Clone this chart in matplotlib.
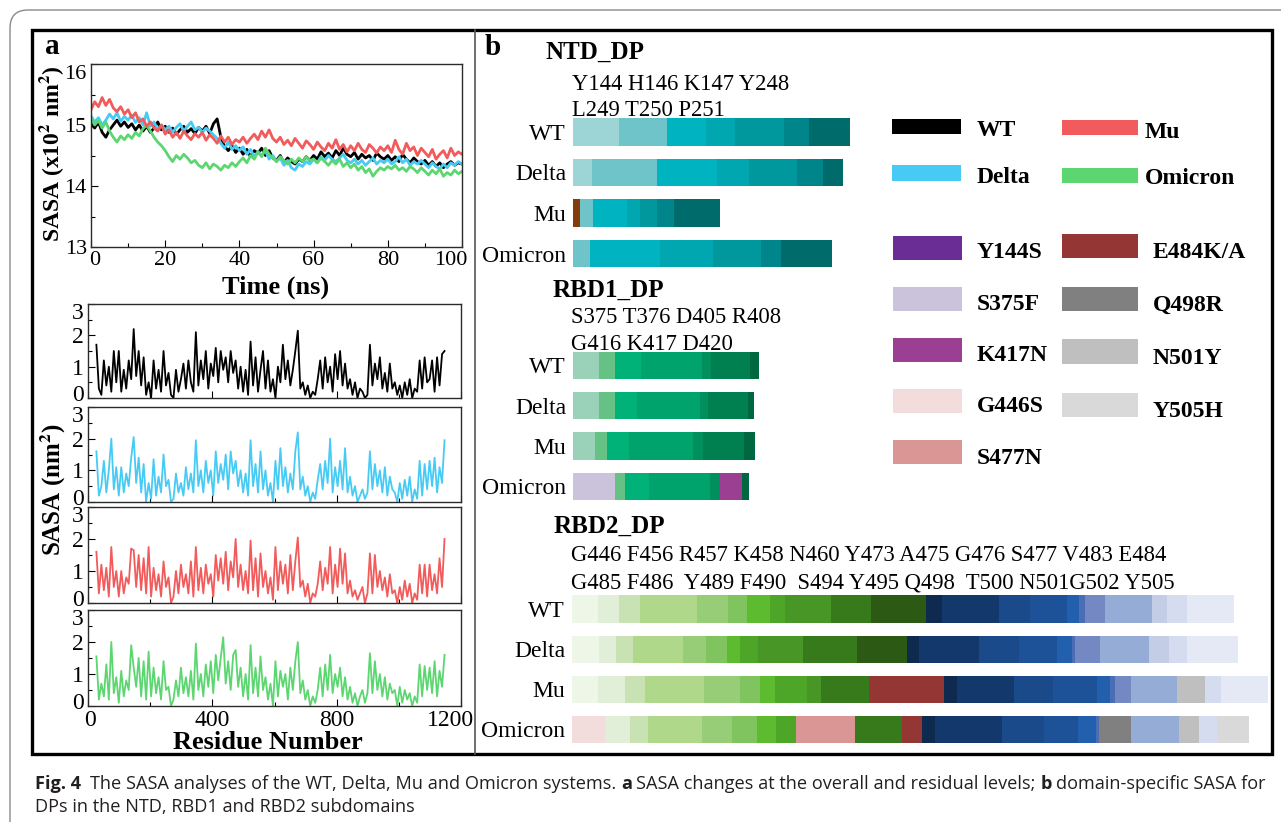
import numpy as np
import matplotlib
matplotlib.use('Agg')
import matplotlib.pyplot as plt
from matplotlib.patches import Rectangle, FancyBboxPatch
from matplotlib.ticker import MultipleLocator
from matplotlib.transforms import ScaledTranslation
from matplotlib import font_manager

plt.rcParams['font.family'] = 'Liberation Serif'
plt.rcParams['mathtext.fontset'] = 'stix'

# ---------------- data: panel a (overall SASA vs time, x10^2 nm^2) ----------------
time_ns = np.arange(0, 101)

sasa_wt = [15.02, 14.95, 15.05, 14.88, 14.80, 14.92, 15.00, 15.08, 14.98, 15.05,
           14.96, 15.02, 14.92, 15.00, 14.90, 14.98, 14.88, 14.95, 15.05, 14.92,
           14.98, 14.88, 14.95, 14.85, 14.92, 14.98, 14.88, 14.94, 14.86, 14.96,
           14.90, 14.98, 14.86, 15.02, 15.10, 14.80, 14.65, 14.58, 14.66, 14.55,
           14.62, 14.52, 14.60, 14.48, 14.58, 14.54, 14.62, 14.50, 14.58, 14.46,
           14.42, 14.50, 14.38, 14.46, 14.40, 14.36, 14.44, 14.40, 14.48, 14.42,
           14.50, 14.44, 14.56, 14.48, 14.54, 14.46, 14.58, 14.50, 14.62, 14.52,
           14.48, 14.55, 14.44, 14.52, 14.46, 14.50, 14.42, 14.54, 14.48, 14.44,
           14.50, 14.42, 14.48, 14.40, 14.52, 14.44, 14.38, 14.46, 14.40, 14.36,
           14.42, 14.34, 14.40, 14.32, 14.38, 14.30, 14.36, 14.40, 14.34, 14.38,
           14.36]
sasa_delta = [15.15, 15.05, 15.12, 15.00, 15.08, 15.18, 15.10, 15.20, 15.06, 15.14,
              15.08, 15.16, 15.04, 15.12, 15.00, 15.20, 14.98, 15.05, 14.92, 15.00,
              14.92, 14.98, 14.88, 14.96, 15.02, 14.90, 14.98, 15.05, 14.92, 14.96,
              14.88, 14.95, 14.90, 14.84, 14.78, 14.70, 14.62, 14.72, 14.60, 14.66,
              14.58, 14.64, 14.52, 14.60, 14.48, 14.56, 14.50, 14.58, 14.44, 14.50,
              14.40, 14.46, 14.34, 14.42, 14.30, 14.26, 14.36, 14.32, 14.40, 14.36,
              14.44, 14.38, 14.48, 14.42, 14.50, 14.44, 14.40, 14.46, 14.52, 14.42,
              14.38, 14.44, 14.36, 14.42, 14.34, 14.40, 14.46, 14.36, 14.42, 14.38,
              14.44, 14.36, 14.40, 14.48, 14.38, 14.44, 14.34, 14.40, 14.36, 14.42,
              14.36, 14.30, 14.38, 14.32, 14.28, 14.36, 14.30, 14.38, 14.34, 14.40,
              14.36]
sasa_mu = [15.25, 15.38, 15.30, 15.45, 15.32, 15.42, 15.28, 15.22, 15.30, 15.18,
           15.25, 15.12, 15.20, 15.05, 15.10, 14.98, 15.05, 14.95, 14.90, 15.00,
           14.85, 14.92, 14.80, 14.88, 14.78, 14.90, 14.82, 14.76, 14.86, 14.80,
           14.88, 14.75, 14.84, 14.78, 14.70, 14.82, 14.72, 14.80, 14.68, 14.76,
           14.72, 14.80, 14.70, 14.78, 14.85, 14.76, 14.90, 14.80, 14.92, 14.78,
           14.72, 14.80, 14.68, 14.75, 14.66, 14.78, 14.70, 14.62, 14.74, 14.68,
           14.60, 14.72, 14.64, 14.58, 14.70, 14.62, 14.76, 14.60, 14.68, 14.56,
           14.66, 14.58, 14.70, 14.60, 14.55, 14.68, 14.62, 14.54, 14.64, 14.58,
           14.66, 14.55, 14.75, 14.60, 14.52, 14.70, 14.58, 14.64, 14.50, 14.62,
           14.55, 14.48, 14.60, 14.44, 14.52, 14.58, 14.46, 14.62, 14.50, 14.56,
           14.52]
sasa_omicron = [15.12, 15.00, 15.08, 14.95, 15.05, 14.90, 14.80, 14.72, 14.82, 14.76,
                14.84, 14.78, 14.88, 14.82, 14.94, 15.00, 14.90, 14.80, 14.72, 14.66,
                14.58, 14.48, 14.40, 14.50, 14.44, 14.52, 14.46, 14.38, 14.42, 14.34,
                14.30, 14.38, 14.28, 14.36, 14.32, 14.26, 14.34, 14.30, 14.38, 14.32,
                14.40, 14.46, 14.38, 14.50, 14.44, 14.56, 14.48, 14.62, 14.52, 14.46,
                14.40, 14.48, 14.42, 14.36, 14.44, 14.38, 14.46, 14.40, 14.48, 14.42,
                14.44, 14.38, 14.46, 14.40, 14.34, 14.42, 14.36, 14.44, 14.32, 14.38,
                14.30, 14.36, 14.26, 14.32, 14.22, 14.28, 14.16, 14.24, 14.30, 14.26,
                14.32, 14.28, 14.34, 14.26, 14.30, 14.24, 14.32, 14.28, 14.22, 14.30,
                14.24, 14.18, 14.26, 14.20, 14.28, 14.16, 14.22, 14.18, 14.26, 14.20,
                14.24]
mean_labels = ['14.71±0.21', '14.62±0.23', '14.59±0.26', '14.45±0.26']

# ---------------- data: panel a (per-residue SASA, nm^2) ----------------
residue = np.arange(27, 1148, 8)

res_wt = [1.7, 0.3, 0.1, 1.2, 0.4, 1.0, 0.2, 1.5, 0.5, 1.5,
          0.2, 0.9, 0.3, 1.2, 0.6, 2.2, 0.7, 1.5, 0.4, 1.3,
          0.1, 0.5, 0.0, 1.2, 0.3, 0.9, 0.2, 1.5, 0.4, 0.8,
          0.1, 0.0, 0.9, 0.2, 0.6, 1.1, 0.3, 1.2, 0.5, 0.2,
          2.1, 0.4, 1.2, 0.6, 1.5, 0.3, 1.1, 0.7, 1.6, 0.5,
          1.5, 0.9, 1.3, 0.5, 1.5, 0.8, 1.2, 0.3, 1.0, 0.2,
          0.9, 0.1, 1.8, 0.4, 1.3, 0.2, 0.9, 1.5, 0.3, 1.2,
          0.2, 0.6, 0.0, 1.0, 0.5, 1.7, 0.6, 1.2, 0.4, 0.9,
          1.5, 2.15, 0.3, 0.5, 0.1, 0.4, 0.0, 0.2, 0.1, 0.6,
          1.2, 0.3, 1.3, 0.5, 1.0, 0.2, 1.4, 0.6, 1.5, 0.4,
          1.1, 0.3, 0.6, 0.1, 0.5, 0.0, 0.3, 0.2, 0.0, 0.1,
          1.7, 0.4, 1.1, 0.6, 1.3, 0.3, 0.8, 0.2, 1.1, 0.3,
          0.5, 0.1, 0.4, 0.0, 0.5, 0.1, 0.6, 0.0, 0.3, 0.2,
          1.2, 0.3, 1.3, 0.5, 0.6, 1.2, 0.2, 1.3, 0.4, 1.4,
          1.5]
res_delta = [1.6, 0.2, 0.5, 1.3, 0.3, 1.0, 2.0, 0.4, 1.1, 0.2,
             1.1, 0.3, 0.9, 0.5, 1.4, 2.05, 0.6, 1.4, 0.3, 1.2,
             0.0, 0.6, 0.1, 1.35, 0.2, 0.8, 0.3, 1.5, 0.5, 0.7,
             0.0, 0.1, 0.9, 0.3, 0.6, 0.2, 1.1, 0.4, 0.9, 0.3,
             1.95, 0.5, 1.0, 0.3, 1.3, 0.6, 1.0, 0.2, 1.6, 0.6,
             1.2, 0.7, 1.5, 0.4, 1.6, 0.9, 1.3, 0.5, 1.0, 0.3,
             0.9, 0.2, 1.95, 0.5, 1.2, 0.3, 1.6, 0.4, 1.0, 0.2,
             0.6, 0.0, 1.3, 0.4, 1.7, 0.5, 1.1, 0.3, 0.9, 0.4,
             1.6, 2.2, 0.4, 0.8, 0.2, 0.5, 0.0, 0.3, 0.1, 0.7,
             1.2, 0.4, 1.3, 0.6, 2.0, 0.3, 1.1, 0.5, 1.3, 0.4,
             1.7, 0.3, 0.8, 0.2, 0.5, 0.0, 0.2, 0.4, 0.1, 0.3,
             1.6, 0.4, 1.2, 0.5, 1.0, 0.3, 1.1, 0.2, 0.8, 0.4,
             0.3, 0.0, 0.6, 0.1, 0.7, 0.2, 0.8, 0.0, 0.4, 0.1,
             1.3, 0.2, 1.2, 0.4, 1.3, 0.5, 1.4, 0.3, 1.1, 0.6,
             1.95]
res_mu = [1.6, 0.3, 1.2, 0.4, 1.1, 0.2, 1.75, 0.5, 1.0, 0.2,
          1.0, 0.3, 0.8, 0.6, 1.7, 1.65, 0.5, 1.5, 0.4, 1.4,
          0.3, 1.75, 0.2, 1.1, 0.4, 0.9, 0.2, 1.3, 0.5, 0.8,
          0.0, 0.2, 1.0, 0.3, 1.2, 0.5, 0.9, 0.3, 1.3, 0.2,
          1.75, 0.4, 1.1, 0.3, 1.2, 0.6, 0.9, 0.2, 1.5, 0.7,
          1.4, 0.6, 1.6, 0.4, 1.3, 0.8, 2.0, 0.5, 1.2, 0.4,
          1.0, 0.3, 1.95, 0.4, 1.4, 0.2, 1.55, 0.5, 1.0, 0.3,
          0.8, 0.1, 1.75, 0.4, 1.3, 0.6, 1.2, 0.3, 1.5, 0.4,
          1.3, 2.05, 0.5, 0.7, 0.2, 0.6, 0.0, 0.3, 0.2, 0.6,
          1.3, 0.4, 1.1, 0.6, 1.75, 0.3, 1.2, 0.5, 1.7, 0.6,
          1.55, 0.3, 0.7, 0.2, 0.4, 0.1, 0.3, 0.5, 0.0, 0.3,
          1.55, 0.3, 1.5, 0.5, 1.0, 0.4, 0.8, 0.2, 0.9, 0.3,
          0.4, 0.0, 0.5, 0.1, 0.7, 0.2, 0.6, 0.0, 0.3, 0.1,
          1.2, 0.3, 1.2, 0.2, 1.2, 0.4, 0.9, 0.3, 1.4, 0.5,
          2.0]
res_omicron = [1.55, 0.2, 0.7, 0.3, 1.3, 0.2, 2.0, 0.4, 0.9, 0.1,
               1.1, 0.3, 0.8, 0.5, 1.9, 1.2, 0.6, 1.5, 0.3, 1.4,
               0.2, 1.7, 0.3, 1.2, 0.4, 0.9, 0.2, 1.4, 0.5, 0.6,
               0.0, 0.2, 0.8, 0.3, 1.2, 0.4, 0.9, 0.3, 1.1, 0.2,
               1.95, 0.5, 1.0, 0.3, 1.3, 0.6, 1.4, 0.4, 1.6, 0.8,
               1.5, 2.15, 0.7, 1.4, 0.5, 1.6, 1.75, 0.6, 1.2, 0.3,
               1.0, 0.2, 1.9, 0.4, 1.2, 0.3, 1.55, 0.5, 0.9, 0.2,
               0.7, 0.0, 1.4, 0.3, 1.1, 0.6, 1.0, 0.2, 1.2, 0.5,
               1.4, 2.0, 0.4, 0.8, 0.2, 0.5, 0.0, 0.3, 0.1, 0.5,
               1.2, 0.3, 1.3, 0.5, 1.6, 0.4, 1.0, 0.6, 1.2, 0.3,
               0.9, 0.2, 0.6, 0.1, 0.4, 0.0, 0.3, 0.5, 0.1, 0.4,
               1.65, 0.4, 1.4, 0.5, 1.0, 0.3, 0.9, 0.2, 0.7, 0.4,
               0.5, 0.0, 0.6, 0.1, 0.5, 0.2, 0.4, 0.0, 0.3, 0.1,
               1.3, 0.3, 1.25, 0.5, 1.2, 0.4, 1.4, 0.3, 1.1, 0.6,
               1.6]

# ---------------- data: panel b (per-residue SASA contributions of DPs) ----------------
variants = ['WT', 'Delta', 'Mu', 'Omicron']

ntd_residues = ['Y144 H146 K147 Y248', 'L249 T250 P251']
ntd_wt = [45.7, 48.3, 39.4, 28.3, 49.3, 25.0, 41.4]
ntd_delta = [18.7, 65.3, 60.0, 31.7, 48.0, 26.3, 20.0]
ntd_mu = [7.0, 12.7, 34.7, 13.0, 17.0, 16.3, 46.3]
ntd_omicron = [16.7, 70.0, 53.3, 47.7, 20.7, 50.7]

rbd1_residues = ['S375 T376 D405 R408', 'G416 K417 D420']
rbd1_wt = [26.0, 16.3, 25.3, 61.3, 9.3, 38.7, 9.0]
rbd1_delta = [26.0, 16.3, 21.7, 63.0, 8.3, 39.3, 6.3]
rbd1_mu = [22.3, 11.3, 22.0, 64.7, 9.3, 41.3, 10.7]
rbd1_omicron = [41.7, 10.7, 23.3, 61.7, 10.0, 21.7, 7.0]

rbd2_residues = ['G446 F456 R457 K458 N460 Y473 A475 G476 S477 V483 E484',
                 'G485 F486  Y489 F490  S494 Y495 Q498  T500 N501G502 Y505']
rbd2_wt = [16.7, 14.0, 13.7, 37.3, 20.3, 12.7, 14.7, 10.0, 29.7, 26.0, 36.3,
           10.7, 36.7, 20.7, 24.0, 8.0, 3.7, 13.3, 30.3, 10.3, 12.7, 31.0]
rbd2_delta = [17.7, 11.3, 11.0, 32.3, 15.0, 14.3, 8.3, 11.7, 29.7, 35.0, 32.7,
              7.7, 39.3, 26.0, 25.3, 9.3, 2.0, 16.3, 32.3, 12.7, 12.3, 33.3]
rbd2_mu = [17.3, 17.3, 13.3, 38.7, 23.0, 13.3, 9.7, 21.3, 8.7, 31.3, 49.0,
           8.7, 37.0, 25.7, 29.0, 8.3, 3.3, 10.7, 30.0, 18.3, 10.0, 31.3]
rbd2_omicron = [21.3, 16.3, 12.0, 35.3, 19.7, 16.3, 12.3, 13.3, 38.3, 31.0, 12.7,
                9.0, 43.3, 28.0, 21.7, 11.7, 2.0, 21.3, 31.3, 12.7, 12.0, 21.0]

# ---------------- colours ----------------
c_wt, c_delta, c_mu, c_omi = '#000000', '#47cbf5', '#f25b5b', '#5cd670'
mut = {'Y144S': '#6a2d96', 'S375F': '#cbc2dc', 'K417N': '#9b3f92', 'G446S': '#f2dcdc',
       'S477N': '#d99694', 'E484K/A': '#943634', 'Q498R': '#808080', 'N501Y': '#bfbfbf',
       'Y505H': '#d9d9d9'}
teal = ['#9dd4d6', '#6fc4ca', '#00b3c1', '#00a6b0', '#00979d', '#00868a', '#006b6b']
mint = ['#99d2b9', '#66c185', '#00b277', '#00a36b', '#008f5d', '#007f50', '#006841']
rb2 = ['#eef6e7', '#e2efd8', '#c9e2b4', '#afd88b', '#98cd78', '#80c45f', '#5cbb2e',
       '#4da628', '#489625', '#377a1c', '#2c5a15', '#0f2a4f', '#13386c', '#1a4a8a',
       '#1d5298', '#2260ad', '#4a6db5', '#7489c3', '#95acd7', '#c3cde6', '#d5dcef', '#e4e9f5']

ntd_cols = [teal, teal, ['#843c0c'] + teal[1:], teal[1:]]
rbd1_cols = [mint, mint, mint,
             [mut['S375F']] + mint[1:5] + [mut['K417N'], mint[6]]]
rb2_mu = list(rb2); rb2_mu[10] = mut['E484K/A']; rb2_mu[19] = mut['N501Y']
rb2_omi = list(rb2)
rb2_omi[0] = mut['G446S']; rb2_omi[8] = mut['S477N']; rb2_omi[10] = mut['E484K/A']
rb2_omi[17] = mut['Q498R']; rb2_omi[19] = mut['N501Y']; rb2_omi[21] = mut['Y505H']
rbd2_cols = [rb2, rb2, rb2_mu, rb2_omi]

# ---------------- figure ----------------
W, H = 1281, 822
fig = plt.figure(figsize=(W / 100, H / 100), dpi=100)


def add_ax(l, t, r, b):
    return fig.add_axes([l / W, 1 - b / H, (r - l) / W, (b - t) / H])


def nudge(label, dx, dy):
    # shift a tick label by dx, dy pixels (dy > 0 means down)
    label.set_transform(label.get_transform() +
                        ScaledTranslation(dx / 100, -dy / 100, fig.dpi_scale_trans))


over = fig.add_axes([0, 0, 1, 1])
over.set_xlim(0, W)
over.set_ylim(H, 0)
over.axis('off')

# page border, figure frame and divider
over.add_patch(FancyBboxPatch((10, 10), 1320, 830, boxstyle='round,pad=0,rounding_size=18',
                              fill=False, ec='#8a8a8a', lw=1.0))
over.add_patch(Rectangle((32, 30), 1240, 724, fill=False, ec='black', lw=2.4))
over.plot([475, 475], [30, 754], color='#555555', lw=1.2)

over.text(45, 54, 'a', fontsize=21, fontweight='bold', va='baseline')
over.text(485, 55, 'b', fontsize=21, fontweight='bold', va='baseline')


def style_axes(ax):
    for s in ax.spines.values():
        s.set_color('#2b2b2b')
        s.set_linewidth(1.0)
    ax.tick_params(which='both', direction='in', top=False, right=False, width=0.8)
    ax.tick_params(which='major', length=5)
    ax.tick_params(which='minor', length=3)


# top: overall SASA
ax0 = add_ax(91, 64, 462, 247)
for vals, c in [(sasa_wt, c_wt), (sasa_delta, c_delta), (sasa_omicron, c_omi), (sasa_mu, c_mu)]:
    ax0.plot(time_ns, vals, color=c, lw=2.0)
ax0.set_xlim(0, 100)
ax0.set_ylim(13, 16)
ax0.set_xticks([0, 20, 40, 60, 80, 100])
ax0.set_yticks([13, 14, 15, 16])
ax0.xaxis.set_minor_locator(MultipleLocator(10))
ax0.yaxis.set_minor_locator(MultipleLocator(0.5))
style_axes(ax0)
ax0.tick_params(labelsize=16, pad=3)
xl = ax0.get_xticklabels()
yl = ax0.get_yticklabels()
nudge(xl[0], 4, 0)
nudge(xl[-1], -11, 0)
nudge(yl[-1], 0, 8)

for txt, c, yb in zip(mean_labels, [c_mu, c_wt, c_delta, c_omi], [190, 208, 225, 242]):
    over.text(110, yb, txt, color=c, fontsize=16.5, fontweight='bold', va='baseline')

over.text(52, 154, r'SASA (x10$^{\mathbf{2}}$ nm$^{\mathbf{2}}$)', rotation=90, fontsize=17,
          fontweight='bold', ha='center', va='center')
over.text(276, 287, 'Time (ns)', fontsize=19, fontweight='bold', ha='center', va='center')

# per-residue panels
res_series = [(res_wt, c_wt), (res_delta, c_delta), (res_mu, c_mu), (res_omicron, c_omi)]
panel_rows = [(304, 398), (407, 502), (507, 603), (610, 706)]
for i, ((vals, c), (t, b)) in enumerate(zip(res_series, panel_rows)):
    ax = add_ax(88, t, 461, b)
    ax.plot(residue, vals, color=c, lw=1.3)
    ax.set_xlim(0, 1200)
    ax.set_ylim(0, 3)
    ax.set_xticks([0, 400, 800, 1200])
    ax.set_yticks([0, 1, 2, 3])
    ax.xaxis.set_minor_locator(MultipleLocator(200))
    ax.yaxis.set_minor_locator(MultipleLocator(0.5))
    style_axes(ax)
    ax.tick_params(labelsize=17, pad=3)
    yl = ax.get_yticklabels()
    nudge(yl[0], 0, -5)
    nudge(yl[-1], 0, 7)
    if i < 3:
        ax.tick_params(labelbottom=False)
    else:
        xl = ax.get_xticklabels()
        nudge(xl[0], 2, 0)
        nudge(xl[-1], -11, 0)

over.text(53, 490, r'SASA (nm$^{\mathbf{2}}$)', rotation=90, fontsize=18, fontweight='bold',
          ha='center', va='center')
over.text(268, 742, 'Residue Number', fontsize=19, fontweight='bold', ha='center', va='center')


# ---------------- panel b: stacked DP bars ----------------
def bar_block(left, top, gap, width_px, px_per_unit, rows, cols, pad):
    ax = add_ax(left, top, left + width_px, top + 4 * gap)
    ax.set_xlim(0, width_px / px_per_unit)
    ax.set_ylim(3.5, -0.5)
    for i, (ws, cs) in enumerate(zip(rows, cols)):
        lefts = np.concatenate([[0], np.cumsum(ws)[:-1]])
        ax.barh(i, ws, left=lefts, color=cs, height=0.68, edgecolor='none')
    ax.set_yticks(range(4))
    ax.set_yticklabels(variants, fontsize=17)
    ax.tick_params(axis='y', length=0, pad=pad)
    ax.set_xticks([])
    for s in ax.spines.values():
        s.set_visible(False)
    ax.patch.set_alpha(0)
    return ax


bar_block(573, 111.75, 40.5, 300, 1.0, [ntd_wt, ntd_delta, ntd_mu, ntd_omicron], ntd_cols, 5)
bar_block(573, 345.2, 40.3, 210, 1.0, [rbd1_wt, rbd1_delta, rbd1_mu, rbd1_omicron], rbd1_cols, 5)
bar_block(572, 589, 40.1, 698, 1.53, [rbd2_wt, rbd2_delta, rbd2_mu, rbd2_omicron], rbd2_cols, 5)

over.text(546, 59, 'NTD_DP', fontsize=18, fontweight='bold', va='baseline')
over.text(572, 90, ntd_residues[0], fontsize=16.3, va='baseline')
over.text(572, 116, ntd_residues[1], fontsize=16.3, va='baseline')
over.text(553, 297, 'RBD1_DP', fontsize=18, fontweight='bold', va='baseline')
over.text(571, 322.5, rbd1_residues[0], fontsize=16.3, va='baseline')
over.text(571, 350, rbd1_residues[1], fontsize=16.3, va='baseline')
over.text(554, 532.5, 'RBD2_DP', fontsize=18, fontweight='bold', va='baseline')
over.text(571, 561, rbd2_residues[0], fontsize=16.3, va='baseline')
over.text(571, 588, rbd2_residues[1], fontsize=16.3, va='baseline')

# legend swatches (layout in pixels)
legend_items = [
    ('WT', c_wt, (892, 119, 961, 134), (977, 136)),
    ('Mu', c_mu, (1062, 120, 1138, 135), (1145, 137.7)),
    ('Delta', c_delta, (892, 165, 961, 181), (977, 182.7)),
    ('Omicron', c_omi, (1062, 168, 1138, 183), (1145, 184)),
    ('Y144S', mut['Y144S'], (893, 236, 962, 260), (977, 257.7)),
    ('E484K/A', mut['E484K/A'], (1062, 234, 1138, 258), (1153, 257.7)),
    ('S375F', mut['S375F'], (893, 287, 962, 311), (977, 310)),
    ('Q498R', mut['Q498R'], (1062, 287, 1138, 311), (1153, 311)),
    ('K417N', mut['K417N'], (893, 338, 962, 362), (977, 361)),
    ('N501Y', mut['N501Y'], (1062, 339, 1138, 364), (1153, 364.3)),
    ('G446S', mut['G446S'], (893, 389, 962, 413), (977, 412.3)),
    ('Y505H', mut['Y505H'], (1062, 393, 1138, 417), (1153, 417.3)),
    ('S477N', mut['S477N'], (893, 440, 962, 464), (977, 464)),
]
for name, c, (x0, y0, x1, y1), (tx, ty) in legend_items:
    over.add_patch(Rectangle((x0, y0), x1 - x0, y1 - y0, color=c, lw=0))
    over.text(tx, ty, name, fontsize=17, fontweight='bold', va='baseline')

# ---------------- caption ----------------
names = {f.name for f in font_manager.fontManager.ttflist}
capfam = 'Liberation Sans Narrow' if 'Liberation Sans Narrow' in names else 'Open Sans'
cap_color = '#231f20'
line1 = [('Fig. 4', 'bold', 2), ('The SASA analyses of the WT, Delta, Mu and Omicron systems.', 'normal', 1),
         ('a', 'bold', 1), ('SASA changes at the overall and residual levels;', 'normal', 1),
         ('b', 'bold', 1), ('domain-specific SASA for', 'normal', 0)]
line2 = [('DPs in the NTD, RBD1 and RBD2 subdomains', 'normal', 0)]
renderer = fig.canvas.get_renderer()


def draw_line(x, y, pieces, size, keep=True):
    sp = 0.25 * size * 100 / 72
    made = []
    for s, w, g in pieces:
        t = over.text(x, y, s, fontsize=size, fontweight=w, family=capfam, color=cap_color,
                      va='baseline')
        made.append(t)
        x += t.get_window_extent(renderer).width + g * sp
    if not keep:
        for t in made:
            t.remove()
    return x


end = draw_line(35, 789, line1, 12, keep=False)
cap_size = 12 * 1228 / (end - 35)
draw_line(35, 789, line1, cap_size)
draw_line(35, 812, line2, cap_size)

fig.savefig('out.png', dpi=100)
